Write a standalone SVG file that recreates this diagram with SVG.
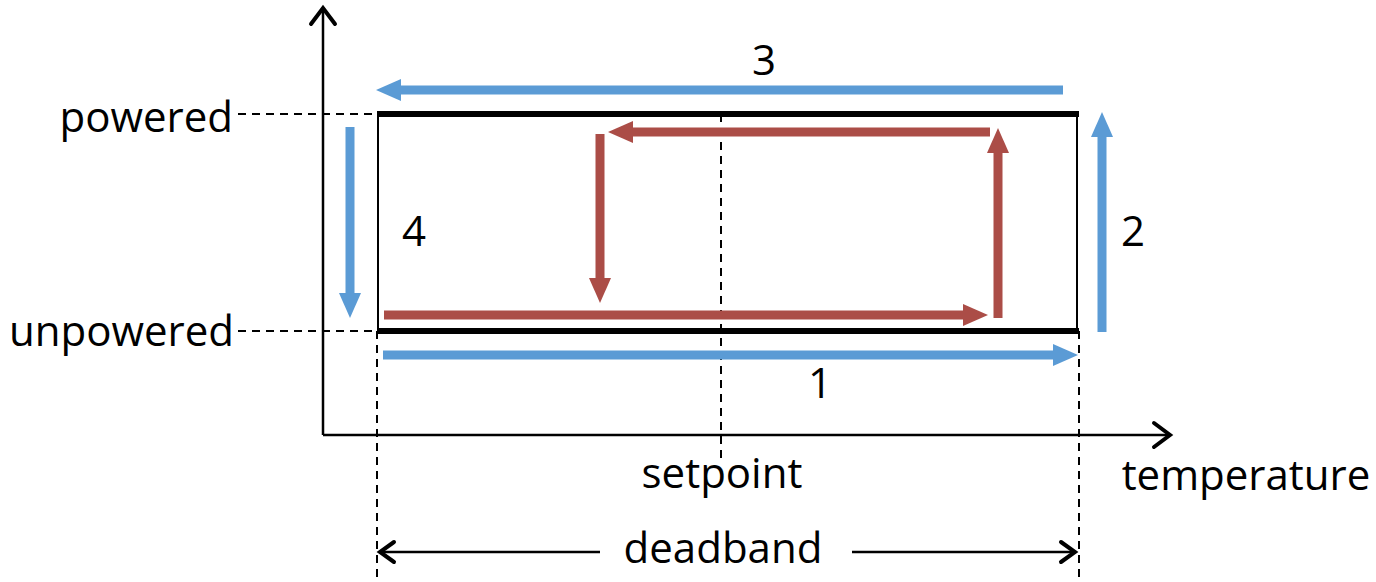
<svg xmlns="http://www.w3.org/2000/svg" width="1376" height="582" viewBox="0 0 1376 582">
<defs>
<style>
.t{font-family:"Open Sans","Liberation Sans",sans-serif;font-size:42px;fill:#000}
.dash{stroke:#000;stroke-width:2;stroke-dasharray:8,6;fill:none}
.ax{stroke:#000;stroke-width:2.5;fill:none}
.chev{stroke:#000;stroke-width:4;fill:none;stroke-linecap:round;stroke-linejoin:miter}
.blue{stroke:#5b9bd5;stroke-width:9;fill:none}
.red{stroke:#ab4d47;stroke-width:9;fill:none}
</style>
</defs>
<rect width="1376" height="582" fill="#fff"/>
<g id="dashes">
<line class="dash" x1="238" y1="114" x2="378" y2="114"/>
<line class="dash" x1="238" y1="331" x2="378" y2="331"/>
<line class="dash" x1="377" y1="331" x2="377" y2="582"/>
<line class="dash" x1="1079" y1="331" x2="1079" y2="582"/>
<line class="dash" x1="721" y1="114" x2="721" y2="460"/>
</g>
<g id="axes">
<line class="ax" x1="323" y1="435" x2="323" y2="8"/>
<polyline class="chev" points="311,24 323,8 335,24"/>
<line class="ax" x1="323" y1="435" x2="1170" y2="435"/>
<polyline class="chev" points="1154,423 1170,435 1154,447"/>
</g>
<g id="box">
<line x1="378" y1="114" x2="378" y2="331" stroke="#000" stroke-width="2"/>
<line x1="1077" y1="114" x2="1077" y2="331" stroke="#000" stroke-width="2"/>
<line x1="377" y1="114" x2="1079" y2="114" stroke="#000" stroke-width="6"/>
<line x1="377" y1="331" x2="1079" y2="331" stroke="#000" stroke-width="6"/>
</g>
<g id="connectors">
<line class="blue" x1="1063" y1="90" x2="398" y2="90"/>
<polygon fill="#5b9bd5" points="376,90 401,79 401,101"/>
<line class="blue" x1="383" y1="355" x2="1056" y2="355"/>
<polygon fill="#5b9bd5" points="1078,355 1053,344 1053,366"/>
<line class="blue" x1="1102" y1="332" x2="1102" y2="134"/>
<polygon fill="#5b9bd5" points="1102,112 1091,137 1113,137"/>
<line class="blue" x1="350" y1="127" x2="350" y2="296"/>
<polygon fill="#5b9bd5" points="350,318 339,293 361,293"/>
<line class="red" x1="990" y1="132" x2="630" y2="132"/>
<polygon fill="#ab4d47" points="608,132 633,121 633,143"/>
<line class="red" x1="600" y1="134" x2="600" y2="281"/>
<polygon fill="#ab4d47" points="600,303 589,278 611,278"/>
<line class="red" x1="384" y1="315" x2="966" y2="315"/>
<polygon fill="#ab4d47" points="988,315 963,304 963,326"/>
<line class="red" x1="998" y1="318" x2="998" y2="150"/>
<polygon fill="#ab4d47" points="998,128 987,153 1009,153"/>
<line stroke="#000" stroke-width="2.5" x1="600" y1="552" x2="381" y2="552"/>
<polyline class="chev" points="394,542 380,552 394,562"/>
<line stroke="#000" stroke-width="2.5" x1="852" y1="552" x2="1074" y2="552"/>
<polyline class="chev" points="1061,542 1075,552 1061,562"/>
</g>
<g id="labels">
<text class="t" x="233" y="132" text-anchor="end">powered</text>
<text class="t" x="234" y="346" text-anchor="end">unpowered</text>
<text class="t" x="764" y="75" text-anchor="middle">3</text>
<text class="t" x="1133" y="246" text-anchor="middle">2</text>
<text class="t" x="414" y="246" text-anchor="middle">4</text>
<text class="t" x="820" y="398" text-anchor="middle">1</text>
<text class="t" x="722" y="488" text-anchor="middle">setpoint</text>
<text class="t" x="1246" y="490" text-anchor="middle">temperature</text>
<text class="t" x="723" y="563" text-anchor="middle">deadband</text>
</g>
</svg>
